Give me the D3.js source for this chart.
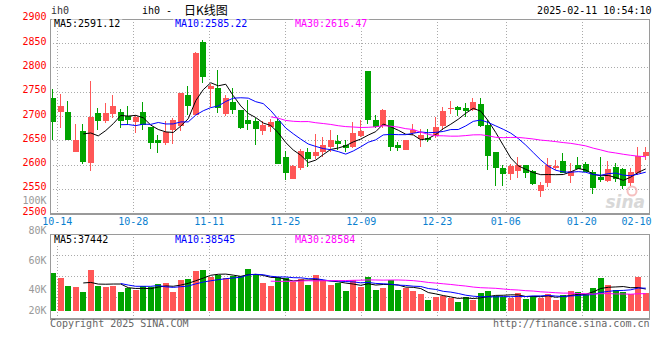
<!DOCTYPE html>
<html><head><meta charset="utf-8">
<script src="https://cdn.jsdelivr.net/npm/d3@7/dist/d3.min.js"></script>
<style>
body{margin:0;background:#fff}
svg{display:block}
text{font-family:"DejaVu Sans Mono",monospace;font-size:10px}
</style>
</head><body>
<svg id="c" width="660" height="360"></svg>
<script>
// ---------- data ----------
const dates = ["10-11",
 "10-14","10-15","10-16","10-17","10-18","10-21","10-22","10-23","10-24","10-25",
 "10-28","10-29","10-30","10-31","11-01","11-04","11-05","11-06","11-07","11-08",
 "11-11","11-12","11-13","11-14","11-15","11-18","11-19","11-20","11-21","11-22",
 "11-25","11-26","11-27","11-28","11-29","12-02","12-03","12-04","12-05","12-06",
 "12-09","12-10","12-11","12-12","12-13","12-16","12-17","12-18","12-19","12-20",
 "12-23","12-24","12-25","12-26","12-27","12-30","12-31","01-02","01-03",
 "01-06","01-07","01-08","01-09","01-10","01-13","01-14","01-15","01-16","01-17",
 "01-20","01-21","01-22","01-23","01-24","01-27","02-05","02-06","02-07","02-10"];

const open = [2737.6,2708.8,2708.2,2626.7,2669.1,2604.0,2706.1,2690.4,2703.4,2708.2,
 2700.0,2687.6,2708.2,2677.3,2650.6,2645.2,2671.9,2679.4,2743.1,2702.0,
 2851.3,2755.4,2758.2,2704.0,2728.0,2712.3,2691.7,2689.7,2669.8,2678.0,
 2689.7,2615.7,2570.5,2593.8,2626.0,2618.4,2625.3,2637.0,2648.6,2639.7,
 2635.6,2659.5,2792.4,2691.7,2680.1,2691.7,2640.4,2630.1,2665.7,2652.0,
 2654.0,2658.8,2678.7,2713.6,2718.4,2716.4,2711.6,2723.9,2681.5,2626.7,
 2592.4,2581.4,2587.6,2599.3,2587.6,2546.5,2561.6,2592.4,2607.5,2577.3,
 2599.3,2602.0,2585.5,2575.3,2567.0,2595.1,2590.3,2561.6,2582.1,2618.4];
const high = [2755.4,2744.5,2730.8,2683.5,2683.5,2771.9,2716.4,2726.0,2743.1,2714.3,
 2721.2,2702.0,2728.0,2677.3,2660.9,2689.7,2695.2,2747.2,2761.6,2832.2,
 2856.1,2765.0,2794.5,2743.1,2756.8,2712.3,2732.8,2695.2,2689.7,2693.8,
 2696.0,2628.7,2599.0,2632.0,2633.5,2662.0,2657.0,2672.0,2661.0,2650.6,
 2687.0,2691.7,2792.4,2702.0,2714.3,2691.7,2647.2,2650.6,2683.5,2672.5,
 2672.5,2697.2,2719.1,2730.8,2720.5,2726.0,2737.6,2737.6,2691.7,2627.0,
 2599.3,2600.6,2616.4,2600.0,2590.0,2565.0,2613.0,2609.5,2623.2,2602.7,
 2616.4,2604.7,2589.0,2616.4,2607.5,2602.7,2593.8,2593.8,2637.0,2637.0];
const low = [2650.6,2674.6,2650.6,2625.3,2602.0,2587.6,2671.2,2684.9,2696.5,2676.0,
 2681.5,2665.7,2671.2,2632.8,2624.6,2640.4,2642.4,2669.8,2702.0,2702.0,
 2767.1,2719.1,2706.8,2699.9,2704.0,2673.2,2671.2,2640.4,2660.9,2667.7,
 2601.3,2567.7,2570.5,2589.0,2595.8,2612.0,2616.0,2626.0,2630.0,2626.7,
 2633.5,2657.5,2683.5,2674.6,2676.0,2628.0,2628.0,2630.1,2660.9,2636.9,
 2647.2,2655.4,2671.2,2703.4,2700.0,2698.6,2710.2,2678.0,2589.0,2556.8,
 2556.8,2568.4,2571.8,2573.2,2558.0,2534.2,2554.7,2589.0,2583.0,2561.6,
 2591.0,2584.2,2540.3,2563.6,2563.6,2565.0,2550.0,2556.8,2578.7,2609.5];
const close = [2688.3,2720.5,2651.3,2649.9,2606.1,2697.9,2690.4,2706.1,2720.5,2690.4,
 2691.7,2697.9,2681.5,2645.2,2645.2,2667.0,2691.7,2747.2,2721.2,2830.1,
 2780.8,2762.3,2715.7,2737.6,2712.3,2676.0,2684.2,2673.9,2681.5,2686.9,
 2601.3,2583.5,2597.5,2628.0,2611.6,2626.0,2640.4,2650.6,2642.4,2634.9,
 2665.7,2669.1,2691.7,2678.0,2712.3,2636.9,2634.9,2650.6,2671.2,2661.6,
 2650.0,2676.6,2710.2,2717.1,2713.0,2710.9,2728.0,2680.1,2618.4,2592.4,
 2580.1,2597.9,2599.3,2582.1,2559.5,2558.2,2599.3,2597.9,2583.5,2587.0,
 2591.7,2585.5,2552.7,2568.4,2591.0,2569.8,2556.8,2585.5,2617.7,2626.7];
// volume in thousands of lots
const volume = [65.0,56.4,42.2,41.0,32.5,69.6,42.2,41.0,42.7,32.5,
 38.3,35.4,42.2,40.0,46.2,47.9,32.5,52.5,54.7,68.4,
 70.1,57.1,61.0,56.4,59.3,59.8,71.8,63.2,47.9,42.2,
 58.1,56.4,49.6,53.7,44.4,61.0,50.8,43.9,46.8,33.7,
 52.5,40.0,57.6,35.4,38.8,52.5,35.4,39.3,33.7,28.5,
 18.3,23.9,25.1,22.2,15.4,22.9,18.3,30.8,33.7,25.1,
 23.9,22.2,30.3,20.0,25.6,22.2,29.1,18.3,26.8,33.7,
 32.5,29.1,38.8,55.9,43.9,35.4,32.5,28.5,57.6,30.8];

const priceTicks = [2550,2600,2650,2700,2750,2800,2850];
const priceLabels = [2500,2550,2600,2650,2700,2750,2800,2850,2900];
const dateTicks = ["10-14","10-28","11-11","11-25","12-09","12-23","01-06","01-20","02-10"];
const volLabels = ["80K","60K","40K","20K"];
const priceLegend = [["MA5:2591.12","#000"],["MA10:2585.22","#0000ff"],["MA30:2616.47","#ff00ff"]];
const volLegend = [["MA5:37442","#000"],["MA10:38545","#0000ff"],["MA30:28584","#ff00ff"]];

// ---------- layout ----------
const svg = d3.select("#c");
const L = 50, R = 649;
const pTop = 18.7, pBot = 213.3;
const vTop = 234.3, vBot = 317.7;
const RED = "#ff5757", GREEN = "#00a300", GRID = "#aaaaaa", FRAME = "#9a9a9a";

const N = dates.length;
const x = d3.scaleBand().domain(d3.range(N)).range([49.5, 649.5]);
const cx = i => x(i) + x.bandwidth() / 2;
const gx = d3.scaleLinear().domain([0, 80]).range([49.7, 657.7]);
const y = d3.scaleLinear().domain([2500, 2900]).range([pBot, pTop]);
const yv = d3.scaleLinear().domain([0, 130.6]).range([310.7, vTop]);
const vGrid = d3.scaleLinear().domain([0, 4]).range([vBot, vTop]);

const data = dates.map((d, i) => ({i, d, o: open[i], h: high[i], l: low[i], c: close[i], v: volume[i]}));
const col = d => d.c >= d.o ? RED : GREEN;

function ma(arr, n) { return arr.map((v, i) => i < n - 1 ? null : d3.mean(arr.slice(i - n + 1, i + 1))); }

// ---------- grid ----------
const g = svg.append("g").attr("shape-rendering", "crispEdges");
const tickIdx = dateTicks.map(t => dates.indexOf(t));
const vlines = tickIdx.filter(i => gx(i) < R - 2);
[[pTop, pBot], [vTop, vBot]].forEach(([a, b]) => {
  g.selectAll(null).data(vlines).join("line")
    .attr("x1", i => Math.round(gx(i)) + 0.5).attr("x2", i => Math.round(gx(i)) + 0.5)
    .attr("y1", a).attr("y2", b)
    .attr("stroke", GRID).attr("stroke-dasharray", "1,2");
});
g.selectAll(null).data(priceTicks).join("line")
  .attr("x1", L).attr("x2", R)
  .attr("y1", v => Math.round(y(v)) + 0.5).attr("y2", v => Math.round(y(v)) + 0.5)
  .attr("stroke", GRID).attr("stroke-dasharray", "1,2");
g.selectAll(null).data([1, 2, 3]).join("line")
  .attr("x1", L).attr("x2", R)
  .attr("y1", k => Math.round(vGrid(k)) + 0.5).attr("y2", k => Math.round(vGrid(k)) + 0.5)
  .attr("stroke", GRID).attr("stroke-dasharray", "1,2");

// ---------- legends (with white background) ----------
function legend(items, baseline, top) {
  const xs = [54, 175, 295];
  items.forEach(([t, c], k) => {
    const tx = svg.append("text").attr("x", xs[k]).attr("y", baseline).attr("fill", c).text(t);
    const bb = tx.node().getBBox();
    svg.insert("rect", "text").attr("x", bb.x - 2).attr("y", top).attr("width", bb.width + 4)
      .attr("height", 9).attr("fill", "#fff");
  });
}

// ---------- candles ----------
const cg = svg.append("g").attr("shape-rendering", "crispEdges");
cg.selectAll(".wick").data(data).join("rect")
  .attr("x", d => Math.round(cx(d.i) - 3) + 3 - 0.5 + 0.5 - 1).attr("width", 1)
  .attr("y", d => y(d.h)).attr("height", d => Math.max(1, y(d.l) - y(d.h)))
  .attr("fill", col);
cg.selectAll(".body").data(data).join("rect")
  .attr("x", d => Math.round(cx(d.i) - 3)).attr("width", 6)
  .attr("y", d => y(Math.max(d.o, d.c)))
  .attr("height", d => Math.max(1, Math.abs(y(d.o) - y(d.c))))
  .attr("fill", col);

// volume bars
cg.selectAll(".vol").data(data).join("rect")
  .attr("x", d => Math.round(cx(d.i) - 3)).attr("width", 6)
  .attr("y", d => yv(d.v)).attr("height", d => yv(0) - yv(d.v))
  .attr("fill", col);

// ---------- moving averages ----------
const maDefs = [[5, "#000"], [10, "#0000ff"], [30, "#ff00ff"]];
maDefs.forEach(([n, c]) => {
  const mp = ma(close, n), mv = ma(volume, n);
  svg.append("path").datum(mp)
    .attr("d", d3.line().defined(v => v != null).x((v, i) => cx(i)).y(v => y(v)))
    .attr("fill", "none").attr("stroke", c).attr("stroke-width", 1);
  svg.append("path").datum(mv)
    .attr("d", d3.line().defined(v => v != null).x((v, i) => cx(i)).y(v => yv(v)))
    .attr("fill", "none").attr("stroke", c).attr("stroke-width", 1);
});

// ---------- frames ----------
const fg = svg.append("g").attr("shape-rendering", "crispEdges").attr("fill", "none").attr("stroke", FRAME);
fg.append("rect").attr("x", L + 0.5).attr("y", Math.round(pTop) + 0.5)
  .attr("width", R - L).attr("height", Math.round(pBot) - Math.round(pTop));
fg.append("line").attr("x1", L).attr("x2", R + 1).attr("y1", Math.round(pBot) + 1.5).attr("y2", Math.round(pBot) + 1.5);
fg.append("rect").attr("x", L + 0.5).attr("y", Math.round(vTop) + 0.5)
  .attr("width", R - L).attr("height", Math.round(vBot) - Math.round(vTop));
fg.append("line").attr("x1", L).attr("x2", R + 1).attr("y1", Math.round(vBot) + 1.5).attr("y2", Math.round(vBot) + 1.5);

legend(priceLegend, 27, 19.5);
legend(volLegend, 242.5, 235.3);

// ---------- axis labels ----------
svg.selectAll(null).data(priceLabels).join("text")
  .attr("x", 46.5).attr("y", v => y(v) + 1.5).attr("text-anchor", "end")
  .attr("fill", "#ff0000").text(v => v);
svg.append("text").attr("x", 46.5).attr("y", 204).attr("text-anchor", "end").attr("fill", "#999").text("100K");
svg.selectAll(null).data(volLabels).join("text")
  .attr("x", 46.5).attr("y", (t, k) => [234, 264.3, 293.3, 314][k]).attr("text-anchor", "end")
  .attr("fill", "#999").text(t => t);

svg.selectAll(null).data(dateTicks).join("text")
  .attr("x", t => { const i = dates.indexOf(t); return gx(i) > R - 10 ? 651.5 : gx(i); })
  .attr("text-anchor", t => gx(dates.indexOf(t)) > R - 10 ? "end" : "middle")
  .attr("y", 224.5).attr("fill", "#0a7fcf").text(t => t);

// ---------- header / footer ----------
svg.append("text").attr("x", 51).attr("y", 14).attr("fill", "#333").text("ih0");
svg.append("text").attr("x", 142).attr("y", 14).attr("fill", "#000").text("ih0 -");
svg.append("text").attr("x", 184).attr("y", 15).attr("fill", "#000")
  .style("font-family", "'Noto Sans CJK SC',sans-serif").style("font-size", "12px").text("日K线图");
svg.append("text").attr("x", 651.5).attr("y", 14).attr("text-anchor", "end").attr("fill", "#000").text("2025-02-11 10:54:10");
svg.append("text").attr("x", 50).attr("y", 327).attr("fill", "#666").text("Copyright 2025 SINA.COM");
svg.append("text").attr("x", 649.5).attr("y", 327).attr("text-anchor", "end").attr("fill", "#666").text("http://finance.sina.com.cn");

// faint watermark
svg.append("text").attr("x", 645).attr("y", 208).attr("text-anchor", "end")
  .style("font-family", "'DejaVu Sans',sans-serif").style("font-size", "17px").style("font-style", "italic").style("font-weight", "bold")
  .attr("fill", "#c8c8c8").attr("opacity", 0.7).text("sina");
svg.append("circle").attr("cx", 632).attr("cy", 191).attr("r", 4.5).attr("fill", "none")
  .attr("stroke", "#f2b0b0").attr("stroke-width", 2).attr("opacity", 0.8);
</script>
</body></html>
